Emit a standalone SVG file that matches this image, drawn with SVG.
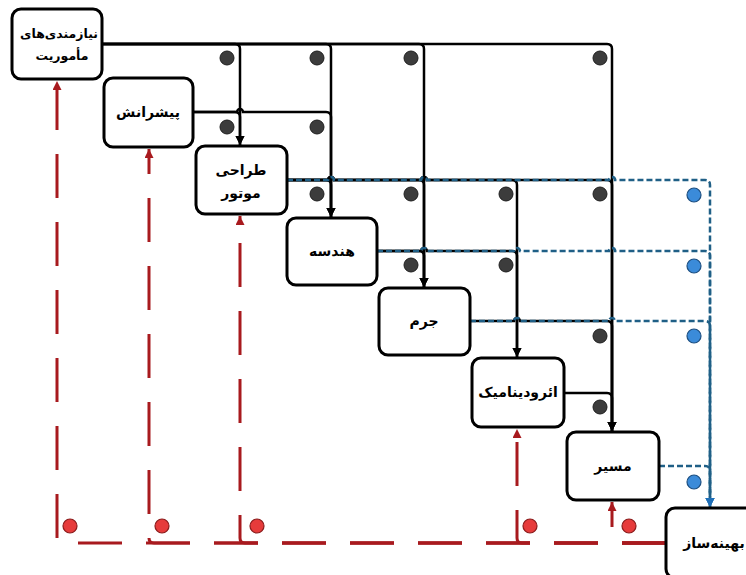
<svg xmlns="http://www.w3.org/2000/svg" width="746" height="575" viewBox="0 0 746 575">
<defs>
<style>
.box{fill:#fff;stroke:#000;stroke-width:3}
.lbl{font-family:"DejaVu Sans","Noto Sans",sans-serif;font-weight:bold;font-size:14px;fill:#000;text-anchor:middle}
.sm{font-size:12.5px}
.k{fill:none;stroke:#000;stroke-width:2.5}
.b{fill:none;stroke:#1f5f86;stroke-width:2.5;stroke-dasharray:6 3}
.r{fill:none;stroke:#a81a1e;stroke-width:3;stroke-dasharray:44 24}
.dk{fill:#3c3c3c;stroke:#1e1e1e;stroke-width:1}
.db{fill:#3b8bd9;stroke:#1d4f80;stroke-width:1.2}
.dr{fill:#e63b3b;stroke:#8a1c1c;stroke-width:1.2}
</style>
<marker id="ak" markerUnits="userSpaceOnUse" markerWidth="10" markerHeight="10" refX="9" refY="4.5" orient="auto"><path d="M0,0 L9,4.5 L0,9 z" fill="#000"/></marker>
<marker id="ab" markerUnits="userSpaceOnUse" markerWidth="10" markerHeight="10" refX="9" refY="4.5" orient="auto"><path d="M0,0 L9,4.5 L0,9 z" fill="#1f6fb8"/></marker>
<marker id="ar" markerUnits="userSpaceOnUse" markerWidth="10" markerHeight="10" refX="9" refY="4.5" orient="auto"><path d="M0,0 L9,4.5 L0,9 z" fill="#a81a1e"/></marker>
</defs>
<rect width="746" height="575" fill="#fff"/>

<g id="connectors">
<path class="k" d="M102,44 H235 Q240,44 240,49 V145" marker-end="url(#ak)"/>
<path class="k" d="M102,44 H326 Q331,44 331,49 V217" marker-end="url(#ak)"/>
<path class="k" d="M102,44 H419 Q424,44 424,49 V287" marker-end="url(#ak)"/>
<path class="k" d="M102,44 H607 Q612,44 612,49 V431" marker-end="url(#ak)"/>
<path class="k" d="M193,112 H235 Q240,112 240,117 V145" marker-end="url(#ak)"/>
<path class="k" d="M193,112 H237 A3,3 0 0 1 243,112 H326 Q331,112 331,117 V217" marker-end="url(#ak)"/>
<path class="k" d="M287,180 H326 Q331,180 331,185 V217" marker-end="url(#ak)"/>
<path class="k" d="M287,180 H328 A3,3 0 0 1 334,180 H419 Q424,180 424,185 V287" marker-end="url(#ak)"/>
<path class="k" d="M287,180 H328 A3,3 0 0 1 334,180 H421 A3,3 0 0 1 427,180 H512 Q517,180 517,185 V357" marker-end="url(#ak)"/>
<path class="k" d="M287,180 H328 A3,3 0 0 1 334,180 H421 A3,3 0 0 1 427,180 H607 Q612,180 612,185 V431" marker-end="url(#ak)"/>
<path class="k" d="M377,251 H419 Q424,251 424,256 V287" marker-end="url(#ak)"/>
<path class="k" d="M377,251 H421 A3,3 0 0 1 427,251 H512 Q517,251 517,256 V357" marker-end="url(#ak)"/>
<path class="k" d="M470,321 H514 A3,3 0 0 1 520,321 H607 Q612,321 612,326 V431" marker-end="url(#ak)"/>
<path class="k" d="M564,393 H607 Q612,393 612,398 V431" marker-end="url(#ak)"/>
<path class="b" d="M287,180 H328 A3,3 0 0 1 334,180 H421 A3,3 0 0 1 427,180 H609 A3,3 0 0 1 615,180 H705 Q710,180 710,185 V507" marker-end="url(#ab)"/>
<path class="b" d="M377,251 H421 A3,3 0 0 1 427,251 H514 A3,3 0 0 1 520,251 H609 A3,3 0 0 1 615,251 H705 Q710,251 710,256 V507" marker-end="url(#ab)"/>
<path class="b" d="M470,321 H514 A3,3 0 0 1 520,321 H609 A3,3 0 0 1 615,321 H705 Q710,321 710,326 V507" marker-end="url(#ab)"/>
<path class="b" d="M659,466 H705 Q710,466 710,471 V507" marker-end="url(#ab)"/>
<path class="r" d="M666,543 H62 Q57,543 57,538 V81" marker-end="url(#ar)"/>
<path class="r" d="M666,543 H154 Q149,543 149,538 V149" marker-end="url(#ar)"/>
<path class="r" d="M666,543 H245 Q240,543 240,538 V216" marker-end="url(#ar)"/>
<path class="r" d="M666,543 H522 Q517,543 517,538 V429" marker-end="url(#ar)"/>
<path class="r" d="M666,543 H617 Q612,543 612,538 V502" marker-end="url(#ar)"/>
</g>

<g id="dots">
<circle class="dk" cx="227" cy="58" r="7"/>
<circle class="dk" cx="317" cy="58" r="7"/>
<circle class="dk" cx="411" cy="58" r="7"/>
<circle class="dk" cx="600" cy="58" r="7"/>
<circle class="dk" cx="227" cy="127" r="7"/>
<circle class="dk" cx="317" cy="127" r="7"/>
<circle class="dk" cx="317" cy="194" r="7"/>
<circle class="dk" cx="411" cy="194" r="7"/>
<circle class="dk" cx="506" cy="194" r="7"/>
<circle class="dk" cx="600" cy="194" r="7"/>
<circle class="dk" cx="411" cy="265" r="7"/>
<circle class="dk" cx="506" cy="265" r="7"/>
<circle class="dk" cx="600" cy="336" r="7"/>
<circle class="dk" cx="600" cy="407" r="7"/>
<circle class="db" cx="694" cy="195" r="7"/>
<circle class="db" cx="694" cy="266" r="7"/>
<circle class="db" cx="694" cy="336" r="7"/>
<circle class="db" cx="694" cy="482" r="7"/>
<circle class="dr" cx="70" cy="526" r="7"/>
<circle class="dr" cx="162" cy="526" r="7"/>
<circle class="dr" cx="257" cy="526" r="7"/>
<circle class="dr" cx="530" cy="526" r="7"/>
<circle class="dr" cx="629" cy="526" r="7"/>
</g>

<g id="n1"><rect class="box" x="12" y="9" width="90" height="70" rx="9"/><text class="lbl sm" x="59" y="38">نیازمندی‌های</text><text class="lbl sm" x="62" y="60">مأموریت</text></g>
<g id="n2"><rect class="box" x="104" y="78" width="89" height="69" rx="9"/><text class="lbl" x="148" y="117">پیشرانش</text></g>
<g id="n3"><rect class="box" x="196" y="146" width="91" height="68" rx="9"/><text class="lbl" x="241" y="175">طراحی</text><text class="lbl" x="241" y="198">موتور</text></g>
<g id="n4"><rect class="box" x="287" y="218" width="90" height="67" rx="9"/><text class="lbl" x="332" y="256">هندسه</text></g>
<g id="n5"><rect class="box" x="379" y="288" width="91" height="67" rx="9"/><text class="lbl" x="424" y="326">جرم</text></g>
<g id="n6"><rect class="box" x="472" y="358" width="92" height="69" rx="9"/><text class="lbl" x="518" y="397">ائرودینامیک</text></g>
<g id="n7"><rect class="box" x="567" y="432" width="92" height="68" rx="9"/><text class="lbl" x="613" y="471">مسیر</text></g>
<g id="n8"><rect class="box" x="666" y="508" width="100" height="70" rx="9"/><text class="lbl" x="714" y="548">بهینه‌ساز</text></g>
</svg>
